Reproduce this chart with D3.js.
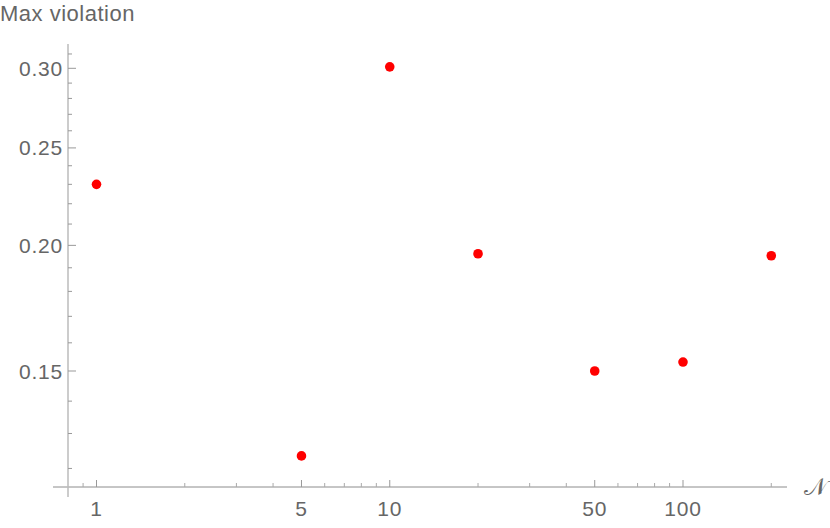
<!DOCTYPE html>
<html>
<head>
<meta charset="utf-8">
<script src="https://cdn.jsdelivr.net/npm/d3@7/dist/d3.min.js"></script>
<style>
  html, body { margin: 0; padding: 0; background: #fff; }
  svg { display: block; }
  text { font-family: "Liberation Sans", Arial, sans-serif; fill: #666; }
</style>
</head>
<body>
<svg id="chart" width="830" height="528"></svg>
<script>
// Data
const nValues = [1, 5, 10, 20, 50, 100, 200];
const maxViolation = [0.230, 0.1235, 0.301, 0.1962, 0.150, 0.1531, 0.1953];
const xMajorTicks = [1, 5, 10, 50, 100];
const xMinorTicks = [0.9, 2, 3, 4, 6, 7, 8, 9, 20, 30, 40, 60, 70, 80, 90, 200];
const yMajorTicks = [0.15, 0.20, 0.25, 0.30];
const yMinorTicks = [0.12, 0.13, 0.14, 0.16, 0.17, 0.18, 0.19, 0.21, 0.22, 0.23, 0.24, 0.26, 0.27, 0.28, 0.29, 0.31];
const yLabel = "Max violation";
const xLabel = "\u{1D4A9}";

const svg = d3.select("#chart");

const x = d3.scaleLog().domain([1, 100]).range([96.5, 683]);
const y = d3.scaleLog().domain([0.15, 0.30]).range([371, 68.3]);

const axisY0 = 487;   // x-axis position
const axisX0 = 68;    // y-axis position

// X axis
const gx = svg.append("g").attr("transform", `translate(0,${axisY0})`);
gx.append("line").attr("x1", 53).attr("x2", 787).attr("y1", 0).attr("y2", 0)
  .attr("stroke", "#8c8c8c").attr("stroke-width", 1);
gx.selectAll(".xminor").data(xMinorTicks).enter().append("line")
  .attr("x1", d => x(d)).attr("x2", d => x(d)).attr("y1", 0).attr("y2", -4)
  .attr("stroke", "#aaa").attr("stroke-width", 1);
gx.selectAll(".xmajor").data(xMajorTicks).enter().append("line")
  .attr("x1", d => x(d)).attr("x2", d => x(d)).attr("y1", 0).attr("y2", -7)
  .attr("stroke", "#999").attr("stroke-width", 1);
gx.selectAll(".xlab").data(xMajorTicks).enter().append("text")
  .attr("x", d => x(d)).attr("y", 29)
  .attr("text-anchor", "middle")
  .attr("font-size", 21)
  .attr("letter-spacing", 0.8)
  .text(d => d3.format("d")(d));

// Y axis
const gy = svg.append("g").attr("transform", `translate(${axisX0},0)`);
gy.append("line").attr("x1", 0).attr("x2", 0).attr("y1", 44).attr("y2", 497)
  .attr("stroke", "#bbb").attr("stroke-width", 1.5);
gy.selectAll(".yminor").data(yMinorTicks).enter().append("line")
  .attr("x1", 0).attr("x2", 4).attr("y1", d => y(d)).attr("y2", d => y(d))
  .attr("stroke", "#999").attr("stroke-width", 1);
gy.selectAll(".ymajor").data(yMajorTicks).enter().append("line")
  .attr("x1", 0).attr("x2", 8).attr("y1", d => y(d)).attr("y2", d => y(d))
  .attr("stroke", "#999").attr("stroke-width", 1);
gy.selectAll(".ylab").data(yMajorTicks).enter().append("text")
  .attr("x", -5).attr("y", d => y(d) + 7.5)
  .attr("text-anchor", "end")
  .attr("font-size", 21)
  .attr("letter-spacing", 0.8)
  .text(d => d3.format(".2f")(d));

// Labels
svg.append("text").attr("x", 0).attr("y", 21)
  .attr("font-size", 22).attr("letter-spacing", 0.5).attr("fill", "#666").text(yLabel);
svg.append("text").attr("x", 804).attr("y", 495)
  .attr("font-size", 24).attr("font-family", "DejaVu Sans, serif")
  .text(xLabel);

// Points
svg.selectAll(".pt").data(nValues).enter().append("circle")
  .attr("cx", d => x(d))
  .attr("cy", (d, i) => y(maxViolation[i]))
  .attr("r", 4.8)
  .attr("fill", "#ff0000");
</script>
</body>
</html>
